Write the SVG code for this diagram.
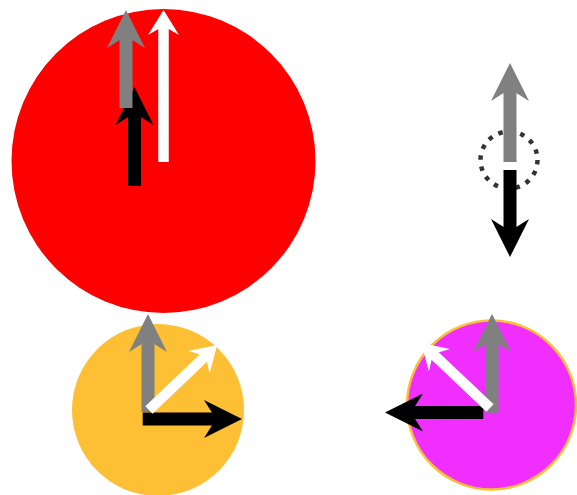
<svg xmlns="http://www.w3.org/2000/svg" width="577" height="495" viewBox="0 0 577 495">
<style>
.hand{fill:none;stroke-linecap:butt}
.blk{stroke:#000;stroke-width:13}
.gry{stroke:#808080;stroke-width:13}
.wht{stroke:#fff;stroke-width:10.5}
</style>
<defs>
<marker id="hb" markerUnits="userSpaceOnUse" viewBox="0 0 38 38" markerWidth="38" markerHeight="38" refX="12" refY="19" orient="auto"><path d="M0,0 L38,19 L0,38 L12,19 z" fill="#000"/></marker>
<marker id="hg" markerUnits="userSpaceOnUse" viewBox="0 0 38 38" markerWidth="38" markerHeight="38" refX="12" refY="19" orient="auto"><path d="M0,0 L38,19 L0,38 L12,19 z" fill="#808080"/></marker>
<marker id="hw" markerUnits="userSpaceOnUse" viewBox="0 0 25 31" markerWidth="25" markerHeight="31" refX="9" refY="15.5" orient="auto"><path d="M0,0 L25,15.5 L0,31 L9,15.5 z" fill="#fff"/></marker>
</defs>
<g id="clock-red">
<circle cx="163.5" cy="161" r="152" fill="#ff0000"/>
<line class="hand blk" x1="134.5" y1="186" x2="134.5" y2="113" marker-end="url(#hb)"/>
<line class="hand gry" x1="126" y1="108" x2="126" y2="36" marker-end="url(#hg)"/>
<line class="hand wht" x1="163.5" y1="162" x2="163.5" y2="26" marker-end="url(#hw)"/>
</g>
<g id="clock-dotted">
<circle cx="509" cy="160" r="28.5" fill="none" stroke="#333" stroke-width="4.5" stroke-dasharray="4.5 6.7"/>
<line class="hand gry" x1="510" y1="162" x2="510" y2="89" marker-end="url(#hg)"/>
<line class="hand blk" x1="510" y1="170" x2="510" y2="231" marker-end="url(#hb)"/>
</g>
<g id="clock-yellow">
<circle cx="158" cy="410" r="86" fill="#fdbf33"/>
<line class="hand blk" x1="142.7" y1="419" x2="216" y2="419" marker-end="url(#hb)"/>
<line class="hand gry" x1="148" y1="412" x2="148" y2="340" marker-end="url(#hg)"/>
<line class="hand wht" x1="149" y1="410" x2="205.5" y2="356" marker-end="url(#hw)"/>
</g>
<g id="clock-magenta">
<circle cx="491.5" cy="405" r="84.5" fill="#f02eff" stroke="#fdbf33" stroke-width="2.5"/>
<line class="hand blk" x1="483.3" y1="412.5" x2="411" y2="412.5" marker-end="url(#hb)"/>
<line class="hand gry" x1="492" y1="412.7" x2="492" y2="340" marker-end="url(#hg)"/>
<line class="hand wht" x1="490" y1="408" x2="433" y2="354" marker-end="url(#hw)"/>
</g>
</svg>
